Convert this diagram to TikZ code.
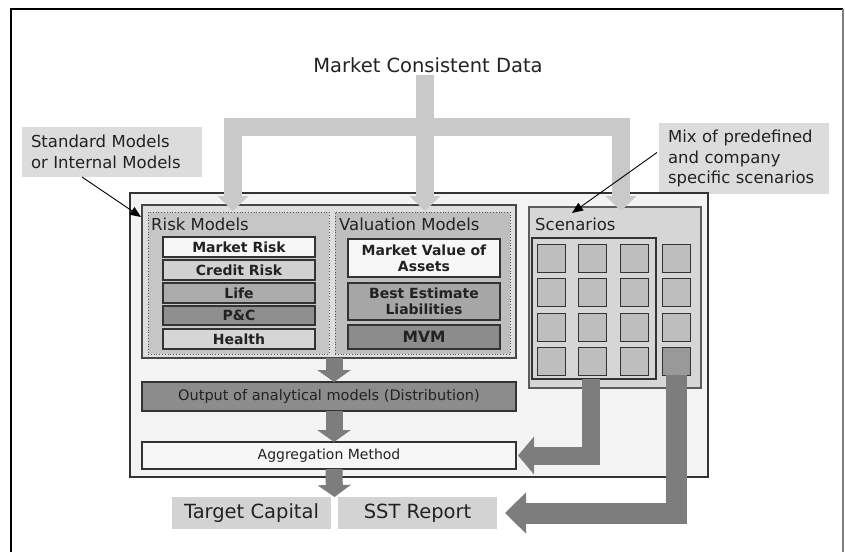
\documentclass[tikz,border=0pt]{standalone}
\usepackage{fontspec}
\setmainfont{DejaVu Sans}
\usetikzlibrary{arrows.meta,calc}
\definecolor{notegray}{HTML}{DCDCDC}
\definecolor{framefill}{HTML}{F3F3F3}
\definecolor{innerfill}{HTML}{DEDEDE}
\definecolor{riskfill}{HTML}{C6C6C6}
\definecolor{valfill}{HTML}{BEBEBE}
\definecolor{boxline}{HTML}{333333}
\definecolor{topgray}{HTML}{C9C9C9}
\definecolor{arrgray}{HTML}{7D7D7D}
\definecolor{txt}{HTML}{222222}
\begin{document}
\begin{tikzpicture}[x=1pt,y=-1pt,
  every node/.style={text=txt},
  blk/.style={anchor=north west, inner sep=0pt, outer sep=0pt},
  item/.style={blk, draw=boxline, line width=1.1pt, minimum width=152pt,
    font=\fontsize{14}{16}\selectfont\bfseries, align=center},
  note/.style={blk, fill=notegray, font=\fontsize{16.5}{20.5}\selectfont,
    align=left, text width=#1, inner xsep=9pt},
  panel/.style={blk, draw=gray!70!black, dotted, line width=0.8pt},
  plabel/.style={anchor=west, inner sep=0pt, font=\fontsize{16.5}{20}\selectfont},
  sq/.style={blk, draw=boxline, line width=1pt, fill=valfill,
    minimum width=28pt, minimum height=28pt},
  toparrow/.style={draw=topgray, line width=18pt,
    -{Triangle[width=30pt 0 0,length=15pt 0 0]}},
  midarrow/.style={draw=arrgray, line width=17pt,
    -{Triangle[width=33pt 0 0,length=12pt 0 0]}},
  pointer/.style={draw=black, line width=0.9pt,
    -{Triangle[width=9pt 0 0,length=11pt 0 0]}},
  result/.style={blk, fill=notegray!90!gray, minimum width=159pt,
    minimum height=32pt, font=\fontsize{19.5}{22}\selectfont}
]
\useasboundingbox (0,0) rectangle (845,552);
% outer border
\draw[black, line width=1.4pt] (11,552) -- (11,9) -- (843,9);
\draw[gray, line width=2pt] (843,9) -- (843,552);

% title
\node[font=\fontsize{19.5}{22}\selectfont, inner sep=2pt] (mcd) at (428,65) {Market Consistent Data};

% notes
\node[note=162pt, minimum width=180pt, minimum height=50pt] (note1) at (22,127)
  {Standard Models\\or Internal Models};
\node[note=152pt, minimum width=170pt, minimum height=71pt] (note2) at (659,123)
  {Mix of predefined\\and company\\specific scenarios};

% main frame
\node[blk, draw=boxline, fill=framefill, line width=1.2pt,
  minimum width=578pt, minimum height=284pt] (frame) at (130,193) {};
\node[blk, draw=boxline!90, fill=innerfill, line width=1.2pt,
  minimum width=374pt, minimum height=153pt] (inner) at (142,205) {};
\node[panel, fill=riskfill, minimum width=181pt, minimum height=142pt] (riskp) at (148,212) {};
\node[panel, fill=valfill, minimum width=175pt, minimum height=142pt] (valp) at (335,212) {};
\node[plabel] (risklab) at (151,224) {Risk Models};
\node[plabel] (vallab) at (339,224) {Valuation Models};

% risk items
\node[item, fill=white!97!black, minimum height=20pt] (mr) at (163,237) {Market Risk};
\node[item, fill=black!18, minimum height=20pt] (cr) at (163,260) {Credit Risk};
\node[item, fill=black!33, minimum height=20pt] (life) at (163,283) {Life};
\node[item, fill=black!44, minimum height=19pt] (pc) at (163,306) {P\&C};
\node[item, fill=black!16, minimum height=20pt] (health) at (163,329) {Health};

% valuation items
\node[item, fill=white!97!black, minimum height=38pt] (mva) at (348,239)
  {Market Value of\\Assets};
\node[item, fill=black!35, minimum height=37pt] (bel) at (348,283)
  {Best Estimate\\Liabilities};
\node[item, fill=black!45, minimum height=24pt,
  font=\fontsize{15.5}{17}\selectfont\bfseries] (mvm) at (348,325) {MVM};

% scenarios
\node[blk, draw=boxline!80, fill=black!16, line width=1.2pt,
  minimum width=172pt, minimum height=181pt] (scen) at (529,207) {};
\node[plabel] (scenlab) at (535,224) {Scenarios};
\node[blk, draw=boxline, line width=1.1pt,
  minimum width=124pt, minimum height=141pt] (grid) at (532,238) {};
\foreach \c/\x in {1/537,2/578,3/620,4/662}{
  \foreach \r/\y in {1/244,2/278,3/313,4/347}{
    \node[sq] (s-\r-\c) at (\x,\y) {};
  }
}
\node[sq, fill=black!40] (s-4-4b) at (662,347) {};

% output and aggregation
\node[blk, draw=boxline, fill=black!45, line width=1.2pt, minimum width=374pt,
  minimum height=29pt, font=\fontsize{14.5}{16}\selectfont] (output) at (142,382)
  {Output of analytical models (Distribution)};
\node[blk, draw=boxline, fill=white!97!black, line width=1.2pt, minimum width=374pt,
  minimum height=27pt, font=\fontsize{14}{16}\selectfont] (agg) at (142,442)
  {Aggregation Method};

% results
\node[result] (tc) at (172,497) {Target Capital};
\node[result] (sst) at (338,497) {SST Report};

% top distribution tree
\coordinate (j) at (425,127);
\coordinate (jl) at (233,127);
\coordinate (jm) at (425,127);
\coordinate (jr) at (621,127);
\draw[draw=topgray, line width=18pt] (j |- mcd.south) -- (j);
\draw[draw=topgray, line width=18pt] ([xshift=-9pt]jl) -- ([xshift=9pt]jr);
\draw[toparrow] (jl) -- (233,211);
\draw[toparrow] (jm) -- (425,211);
\draw[toparrow] (jr) -- (621,211);

% flow arrows
\draw[midarrow] ([xshift=5pt]inner.south) -- ([xshift=5pt]output.north);
\draw[midarrow] ([xshift=5pt]output.south) -- ([xshift=5pt]agg.north);
\draw[midarrow] ([xshift=5pt]agg.south) -- ($(tc.north east)!.5!(sst.north west)$);
\draw[draw=arrgray, line width=18pt, line join=miter,
  -{Triangle[width=37pt 0 0,length=16pt 0 0]}]
  ([xshift=-3pt]grid.south) |- ([xshift=2pt]agg.east);
\draw[draw=arrgray, line width=21pt, line join=miter,
  -{Triangle[width=40pt 0 0,length=21pt 0 0]}]
  (s-4-4b.south) |- ([xshift=8pt]sst.east);

% pointers
\draw[pointer] ([xshift=-30pt]note1.south) -- ([xshift=-7pt,yshift=-5pt]riskp.north west);
\draw[pointer] ([xshift=-2pt,yshift=6pt]note2.west) -- ([xshift=-43pt,yshift=-6pt]scen.north);
\end{tikzpicture}
\end{document}
